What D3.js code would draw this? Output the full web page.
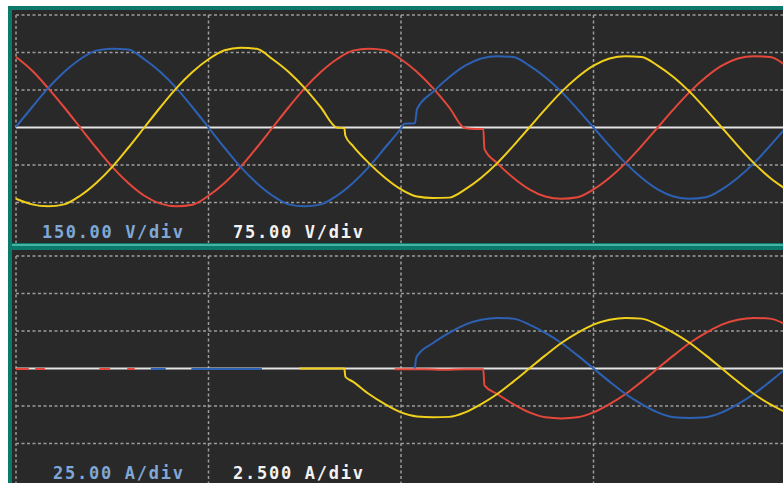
<!DOCTYPE html>
<html>
<head>
<meta charset="utf-8">
<script src="https://cdn.jsdelivr.net/npm/d3@7"></script>
<style>
  html, body { margin: 0; padding: 0; background: #ffffff; }
  svg { display: block; }
</style>
</head>
<body>
<script>
// Three-phase voltage (upper trace) and current (lower trace) capture.
// Time axis in electrical degrees (one period = 2 divisions), values in divisions.

const timeDivs = [0, 180, 360, 540, 720];
const levelDivs = [3, 2, 1, -1, -2];

const voltageRed = [
  [0, 1.88], [15, 1.52], [30, 1.05], [45, 0.54], [60, 0], [75, -0.54], [90, -1.05],
  [105, -1.48], [120, -1.82], [135, -2.03], [150, -2.1], [165, -2.06], [180, -1.82],
  [195, -1.48], [210, -1.05], [225, -0.54], [240, 0], [255, 0.54], [270, 1.05],
  [285, 1.48], [300, 1.82], [315, 2.05], [330, 2.1], [345, 2.06], [360, 1.82],
  [375, 1.48], [390, 1.05], [405, 0.54], [420, -0.02], [430, -0.04], [437, -0.04],
  [438, -0.57], [450, -0.95], [465, -1.34], [480, -1.65], [495, -1.84], [510, -1.9],
  [525, -1.86], [540, -1.65], [555, -1.34], [570, -0.95], [585, -0.49], [600, 0],
  [615, 0.49], [630, 0.95], [645, 1.34], [660, 1.65], [675, 1.84], [690, 1.9],
  [705, 1.88], [720, 1.65]
];

const voltageBlue = [
  [0, 0.02], [15, 0.54], [30, 1.05], [45, 1.48], [60, 1.82], [75, 2.05], [90, 2.1],
  [105, 2.08], [120, 1.82], [135, 1.48], [150, 1.05], [165, 0.54], [180, 0],
  [195, -0.54], [210, -1.05], [225, -1.48], [240, -1.82], [255, -2.05], [270, -2.1],
  [285, -2.05], [300, -1.82], [315, -1.48], [330, -1.05], [345, -0.54], [360, -0.02],
  [363, 0.1], [373, 0.11], [375, 0.49], [390, 0.95], [405, 1.34], [420, 1.65],
  [435, 1.84], [450, 1.9], [465, 1.88], [480, 1.65], [495, 1.34], [510, 0.95],
  [525, 0.49], [540, 0], [555, -0.49], [570, -0.95], [585, -1.34], [600, -1.65],
  [615, -1.84], [630, -1.9], [645, -1.86], [660, -1.65], [675, -1.34], [690, -0.95],
  [705, -0.49], [720, 0]
];

const voltageYellow = [
  [0, -1.9], [15, -2.05], [30, -2.1], [45, -2.05], [60, -1.82], [75, -1.48],
  [90, -1.05], [105, -0.54], [120, 0], [135, 0.54], [150, 1.05], [165, 1.48],
  [180, 1.82], [195, 2.06], [210, 2.13], [225, 2.1], [240, 1.82], [255, 1.48],
  [270, 1.05], [285, 0.54], [300, 0], [307, -0.02], [308, -0.22], [315, -0.49],
  [330, -0.95], [345, -1.34], [360, -1.65], [375, -1.84], [390, -1.88], [405, -1.87],
  [420, -1.65], [435, -1.34], [450, -0.95], [465, -0.49], [480, 0], [495, 0.49],
  [510, 0.95], [525, 1.34], [540, 1.65], [555, 1.84], [570, 1.9], [585, 1.88],
  [600, 1.65], [615, 1.34], [630, 0.95], [645, 0.49], [660, 0], [675, -0.49],
  [690, -0.95], [705, -1.34], [720, -1.65]
];

const currentRed = [
  [354, -0.02], [380, -0.02], [382, -0.02], [400, -0.03], [420, -0.02], [437, -0.02],
  [438, -0.45], [450, -0.68], [465, -0.95], [480, -1.17], [495, -1.3], [510, -1.33],
  [525, -1.3], [540, -1.17], [555, -0.95], [570, -0.68], [585, -0.35], [600, 0],
  [615, 0.35], [630, 0.68], [645, 0.95], [660, 1.17], [675, 1.3], [690, 1.35],
  [705, 1.33], [720, 1.17]
];

const currentBlue = [
  [373, 0.0], [374, 0.25], [375, 0.33], [390, 0.68], [405, 0.95], [420, 1.17],
  [435, 1.3], [450, 1.35], [465, 1.33], [480, 1.17], [495, 0.95], [510, 0.68],
  [525, 0.35], [540, 0], [555, -0.35], [570, -0.68], [585, -0.95], [600, -1.17],
  [615, -1.3], [630, -1.32], [645, -1.3], [660, -1.17], [675, -0.95], [690, -0.68],
  [705, -0.35], [720, 0]
];

const currentYellow = [
  [265, 0.0], [307, 0.0], [308, -0.22], [315, -0.35], [330, -0.68], [345, -0.95],
  [360, -1.17], [375, -1.28], [390, -1.3], [405, -1.29], [420, -1.17], [435, -0.95],
  [450, -0.68], [465, -0.35], [480, 0], [495, 0.35], [510, 0.68], [525, 0.95],
  [540, 1.17], [555, 1.3], [570, 1.35], [585, 1.33], [600, 1.17], [615, 0.95],
  [630, 0.68], [645, 0.35], [660, 0], [675, -0.35], [690, -0.68], [705, -0.95],
  [720, -1.17]
];

// short stretches of trace noise lying on the current zero line before conduction
const idleCurrent = [
  [0, 12, "red"], [18, 27, "red"], [78, 88, "red"], [104, 111, "red"],
  [126, 140, "blue"], [164, 230, "blue"]
];

const voltageScaleLabels = ["150.00 V/div", "75.00 V/div"];
const currentScaleLabels = ["25.00 A/div", "2.500 A/div"];

const W = 783, H = 483;
const colors = { red: "#e5483a", blue: "#2c61b4", yellow: "#f1d01c" };
const bg = "#2a292a", teal = "#0c7a6a", tealLight = "#46b4a4";

const svg = d3.select("body").append("svg").attr("width", W).attr("height", H);

// frame
svg.append("rect").attr("width", W).attr("height", H).attr("fill", "#ffffff");
svg.append("rect").attr("x", 8).attr("y", 6).attr("width", W - 8).attr("height", H - 6).attr("fill", teal);
svg.append("rect").attr("x", 12).attr("y", 10).attr("width", W - 12).attr("height", 233).attr("fill", bg);
svg.append("rect").attr("x", 12).attr("y", 244).attr("width", W - 12).attr("height", 2).attr("fill", tealLight);
svg.append("rect").attr("x", 12).attr("y", 250).attr("width", W - 12).attr("height", H - 250).attr("fill", bg);

const x = d3.scaleLinear().domain([0, 720]).range([16, 786]);
const panels = [
  { y: d3.scaleLinear().domain([-3, 3]).range([240, 15]), top: 15, bottom: 243,
    series: [["red", voltageRed], ["blue", voltageBlue], ["yellow", voltageYellow]],
    labels: voltageScaleLabels, base: 238 },
  { y: d3.scaleLinear().domain([-3, 3]).range([481, 256]), top: 256, bottom: 483,
    series: [["red", currentRed], ["blue", currentBlue], ["yellow", currentYellow]],
    labels: currentScaleLabels, base: 479 }
];

const line = (ys) => d3.line().x(d => x(d[0])).y(d => ys(d[1])).curve(d3.curveMonotoneX);

panels.forEach((p, pi) => {
  const g = svg.append("g");
  const grid = g.append("g").attr("stroke", "#9c9c9c").attr("stroke-width", 1.5)
    .attr("stroke-dasharray", "3,2.5");
  grid.selectAll("line.h").data(levelDivs).join("line")
    .attr("x1", 16).attr("x2", W).attr("y1", d => p.y(d)).attr("y2", d => p.y(d));
  grid.selectAll("line.v").data(timeDivs).join("line")
    .attr("x1", d => x(d)).attr("x2", d => x(d)).attr("y1", p.top).attr("y2", p.bottom);

  // zero reference
  g.append("line").attr("x1", 16).attr("x2", W)
    .attr("y1", p.y(0)).attr("y2", p.y(0))
    .attr("stroke", "#e4e4e4").attr("stroke-width", 2);

  if (pi === 1) {
    g.selectAll("line.idle").data(idleCurrent).join("line")
      .attr("x1", d => x(d[0])).attr("x2", d => x(d[1]))
      .attr("y1", p.y(0) + 0.5).attr("y2", p.y(0) + 0.5)
      .attr("stroke", d => colors[d[2]]).attr("stroke-width", 2);
  }

  p.series.forEach(([c, data]) => {
    g.append("path").attr("d", line(p.y)(data))
      .attr("fill", "none").attr("stroke", colors[c])
      .attr("stroke-width", 2).attr("stroke-linejoin", "round");
  });

  const lab = g.append("g").attr("font-family", "'DejaVu Sans Mono', monospace")
    .attr("font-weight", "bold").attr("font-size", 17);
  lab.append("text").attr("x", pi === 0 ? 42 : 53).attr("y", p.base)
    .attr("fill", "#7fa8d6").attr("textLength", pi === 0 ? 141 : 130)
    .attr("lengthAdjust", "spacing").text(p.labels[0]);
  lab.append("text").attr("x", 233).attr("y", p.base)
    .attr("fill", "#f2f2f2").attr("textLength", 130)
    .attr("lengthAdjust", "spacing").text(p.labels[1]);
});
</script>
</body>
</html>
